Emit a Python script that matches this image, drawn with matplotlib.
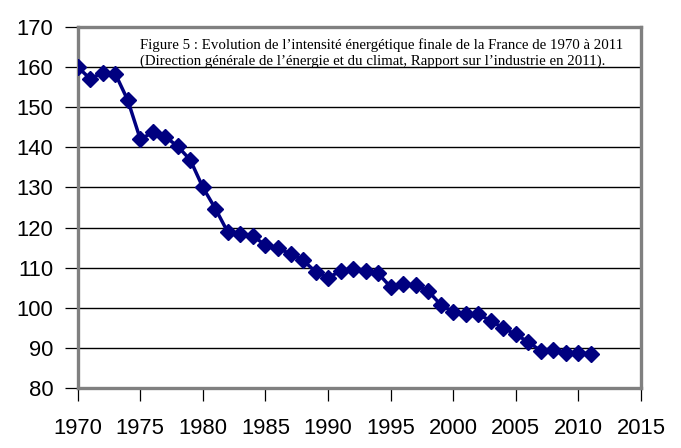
import matplotlib.pyplot as plt

# intensité énergétique finale (base 1970 = 160 sur l'échelle du graphique)
annees = list(range(1970, 2012))
intensite = [160.0, 157.0, 158.6, 158.3, 151.7, 142.0, 143.7, 142.6, 140.2, 136.8,
             130.0, 124.7, 118.8, 118.3, 117.9, 115.6, 114.8, 113.5, 111.9, 109.0,
             107.5, 109.2, 109.8, 109.1, 108.6, 105.2, 105.9, 105.7, 104.2, 100.8,
             99.0, 98.6, 98.4, 96.8, 95.0, 93.4, 91.5, 89.3, 89.6, 88.8,
             88.8, 88.6]
x_ticks = list(range(1970, 2016, 5))
y_ticks = list(range(80, 171, 10))
titre_1 = "Figure 5 : Evolution de l\u2019intensité énergétique finale de la France de 1970 à 2011"
titre_2 = "(Direction générale de l\u2019énergie et du climat, Rapport sur l\u2019industrie en 2011)."

fig = plt.figure(figsize=(6.81, 4.48), dpi=100)
ax = fig.add_axes([0.1141, 0.1333, 0.8272, 0.8071])

ax.plot(annees, intensite, color='#000080', lw=2.5, marker='D', ms=7.8,
        markerfacecolor='#000080', markeredgecolor='#000080', zorder=3)

ax.set_xlim(1970, 2015)
ax.set_ylim(80, 170)
ax.set_xticks(x_ticks)
ax.set_yticks(y_ticks)
ax.yaxis.grid(True, color='black', lw=1.0)
ax.set_axisbelow(True)

for s in ax.spines.values():
    s.set_color('#808080')
    s.set_linewidth(2.4)

ax.tick_params(axis='both', direction='out', length=9.5, width=0.9, color='black',
               labelsize=15.8)
ax.tick_params(axis='y', pad=8)
ax.tick_params(axis='x', pad=12)
for lab in ax.get_xticklabels() + ax.get_yticklabels():
    lab.set_family('Liberation Sans')

# deux lignes de titre placées séparément sur leur ligne de base
for txt, yb in [(titre_1, 0.938), (titre_2, 0.895)]:
    ax.text(0.1106, yb, txt, transform=ax.transAxes, ha='left', va='baseline',
            family='Liberation Serif', fontsize=10.75)

fig.savefig('out.png', dpi=100)
